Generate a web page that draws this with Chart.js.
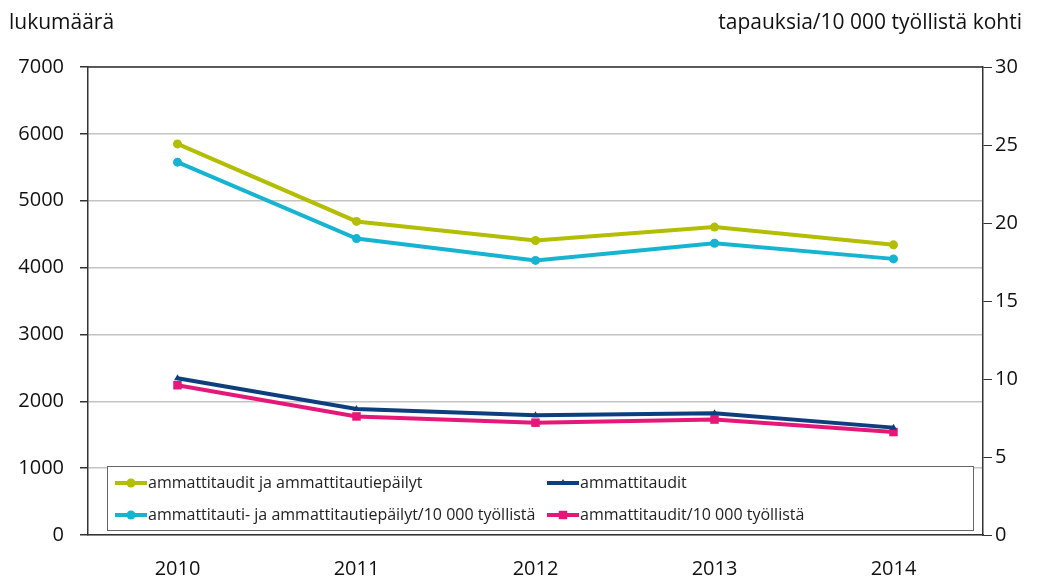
<!DOCTYPE html>
<html>
<head>
<meta charset="utf-8">
<script src="https://cdn.jsdelivr.net/npm/chart.js@4/dist/chart.umd.min.js"></script>
<style>
html,body{margin:0;padding:0;background:#fff;}
#wrap{width:1037px;height:579px;position:relative;}
</style>
</head>
<body>
<div id="wrap"><canvas id="c" width="1037" height="579"></canvas></div>
<script>
const categories = ['2010', '2011', '2012', '2013', '2014'];
const seriesNames = [
  'ammattitaudit ja ammattitautiepäilyt',
  'ammattitaudit',
  'ammattitauti- ja ammattitautiepäilyt/10 000 työllistä',
  'ammattitaudit/10 000 työllistä'
];
const casesAll = [5850, 4690, 4405, 4605, 4340];
const casesConfirmed = [2345, 1886, 1792, 1822, 1606];
const rateAll = [23.9, 19.0, 17.6, 18.7, 17.7];
const rateConfirmed = [9.6, 7.6, 7.2, 7.4, 6.6];
const leftTicks = [0, 1000, 2000, 3000, 4000, 5000, 6000, 7000];
const rightTicks = [0, 5, 10, 15, 20, 25, 30];
const leftTitle = 'lukumäärä';
const rightTitle = 'tapauksia/10 000 työllistä kohti';

const FONT = '"Open Sans", "Noto Sans", sans-serif';
const colors = ['#b3be00', '#0d3f7e', '#17b4d1', '#e5187a'];
const styles = ['circle', 'triangle', 'circle', 'rect'];
const radii = [4.5, 4, 4.5, 6];

function ds(i, data, axis) {
  return {
    label: seriesNames[i], data: data, yAxisID: axis,
    borderColor: colors[i], backgroundColor: colors[i],
    borderWidth: 4, pointStyle: styles[i], pointRadius: radii[i],
    pointBorderWidth: 0, pointHoverRadius: radii[i], tension: 0
  };
}

const extras = {
  id: 'extras',
  afterDraw(chart) {
    const ctx = chart.ctx;
    const a = chart.chartArea;
    ctx.save();
    ctx.strokeStyle = '#333';
    ctx.lineWidth = 1.5;
    ctx.beginPath();
    ctx.moveTo(a.left, a.top);
    ctx.lineTo(a.right, a.top);
    ctx.stroke();
    ctx.fillStyle = '#111';
    ctx.font = '21px ' + FONT;
    ctx.textBaseline = 'middle';
    ctx.textAlign = 'left';
    ctx.fillText(leftTitle, 9, 23);
    ctx.textAlign = 'right';
    ctx.fillText(rightTitle, 1022, 23);
    const lx = 107, ly = 466, lw = 866, lh = 64;
    ctx.fillStyle = '#fff';
    ctx.fillRect(lx, ly, lw, lh);
    ctx.strokeStyle = '#666';
    ctx.lineWidth = 1;
    ctx.strokeRect(lx + 0.5, ly + 0.5, lw, lh);
    const pos = [[115, 483], [547, 483], [115, 515], [547, 515]];
    ctx.font = '16px ' + FONT;
    ctx.textAlign = 'left';
    ctx.textBaseline = 'middle';
    [0, 1, 2, 3].forEach((i, k) => {
      const [x, y] = pos[k];
      ctx.strokeStyle = colors[i];
      ctx.lineWidth = 4;
      ctx.beginPath();
      ctx.moveTo(x, y);
      ctx.lineTo(x + 32, y);
      ctx.stroke();
      ctx.fillStyle = colors[i];
      Chart.helpers.drawPoint(ctx, {pointStyle: styles[i], radius: radii[i], borderWidth: 0, rotation: 0}, x + 16, y);
      ctx.fillStyle = '#222';
      ctx.fillText(seriesNames[i], x + 33, y);
    });
    ctx.restore();
  }
};

new Chart(document.getElementById('c'), {
  type: 'line',
  data: {
    labels: categories,
    datasets: [
      ds(0, casesAll, 'yL'),
      ds(2, rateAll, 'yR'),
      ds(1, casesConfirmed, 'yL'),
      ds(3, rateConfirmed, 'yR')
    ]
  },
  options: {
    responsive: false,
    animation: false,
    devicePixelRatio: 1,
    layout: {padding: {top: 67, left: 0, right: 0, bottom: 0}},
    plugins: {legend: {display: false}, tooltip: {enabled: false}},
    scales: {
      x: {
        type: 'category',
        offset: true,
        grid: {display: true, drawOnChartArea: false, drawTicks: false, color: '#333'},
        border: {display: true, color: '#333', width: 1.5},
        ticks: {color: '#111', font: {family: FONT, size: 20}, padding: 22, maxRotation: 0},
        afterFit(s) { s.height = 44; }
      },
      yL: {
        position: 'left', min: 0, max: 7000,
        afterBuildTicks(s) { s.ticks = leftTicks.map(v => ({value: v})); },
        grid: {color: '#c4c4c4', lineWidth: 1.5, tickColor: '#333', tickLength: 8, drawTicks: true},
        border: {display: true, color: '#333', width: 1.5},
        ticks: {color: '#111', font: {family: FONT, size: 20}, padding: 16, callback: v => String(v)},
        afterFit(s) { s.width = 88; }
      },
      yR: {
        position: 'right', min: 0, max: 30,
        afterBuildTicks(s) { s.ticks = rightTicks.map(v => ({value: v})); },
        grid: {drawOnChartArea: false, color: '#333', tickColor: '#333', tickLength: 9, lineWidth: 1},
        border: {display: true, color: '#333', width: 1.5},
        ticks: {color: '#111', font: {family: FONT, size: 20}, padding: 3, callback: v => String(v)},
        afterFit(s) { s.width = 54; }
      }
    }
  },
  plugins: [extras]
});
</script>
</body>
</html>
